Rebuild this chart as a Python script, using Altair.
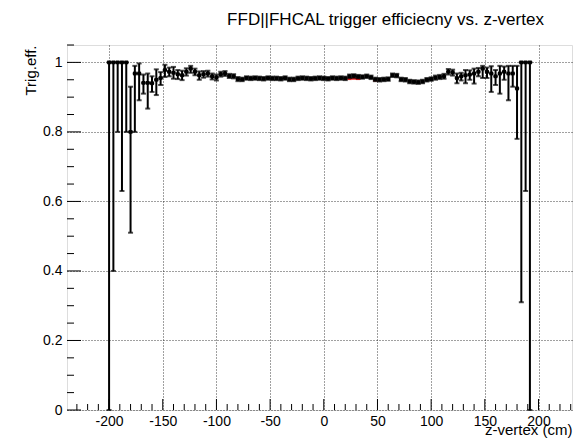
import altair as alt
import pandas as pd

# ---------------- data ----------------
BIN_CENTERS = list(range(-200, 196, 4))   # z-vertex bin centres (cm), bin width 4 cm
HALF_WIDTH = 2

EFF = [
    1.000, 1.000, 1.000, 1.000, 1.000, 0.800, 0.968, 0.968, 0.941, 0.941,
    0.940, 0.950, 0.955, 0.978, 0.973, 0.970, 0.966, 0.963, 0.973, 0.982,
    0.973, 0.963, 0.966, 0.968, 0.960, 0.957, 0.966, 0.968, 0.961, 0.960,
    0.952, 0.951, 0.955, 0.954, 0.955, 0.954, 0.953, 0.955, 0.954, 0.954,
    0.953, 0.955, 0.951, 0.951, 0.954, 0.955, 0.954, 0.953, 0.954, 0.955,
    0.954, 0.953, 0.955, 0.954, 0.955, 0.954, 0.960, 0.961, 0.959, 0.958,
    0.960, 0.957, 0.951, 0.950, 0.951, 0.952, 0.963, 0.962, 0.951, 0.950,
    0.945, 0.944, 0.943, 0.945, 0.950, 0.952, 0.956, 0.958, 0.960, 0.973,
    0.971, 0.955, 0.960, 0.963, 0.965, 0.968, 0.973, 0.982, 0.973, 0.968,
    0.960, 0.968, 0.973, 0.968, 0.968, 0.925, 1.000, 1.000, 1.000,
]
ERR_LO = [
    1.000, 0.600, 0.200, 0.370, 0.200, 0.290, 0.168, 0.077, 0.031, 0.074,
    0.025, 0.044, 0.020, 0.020, 0.013, 0.017, 0.014, 0.014, 0.011, 0.012,
    0.010, 0.013, 0.010, 0.009, 0.009, 0.009, 0.007, 0.007, 0.006, 0.006,
    0.006, 0.005, 0.005, 0.005, 0.005, 0.005, 0.005, 0.005, 0.005, 0.005,
    0.005, 0.005, 0.005, 0.005, 0.005, 0.005, 0.005, 0.005, 0.005, 0.005,
    0.005, 0.005, 0.005, 0.005, 0.005, 0.005, 0.005, 0.005, 0.005, 0.005,
    0.005, 0.005, 0.005, 0.005, 0.005, 0.005, 0.005, 0.005, 0.005, 0.005,
    0.005, 0.005, 0.005, 0.005, 0.005, 0.005, 0.006, 0.006, 0.007, 0.008,
    0.009, 0.015, 0.012, 0.023, 0.015, 0.029, 0.013, 0.027, 0.018, 0.053,
    0.025, 0.058, 0.023, 0.077, 0.038, 0.145, 0.690, 0.370, 1.000,
]
ERR_HI = [
    0.000, 0.000, 0.000, 0.000, 0.000, 0.130, 0.022, 0.029, 0.024, 0.027,
    0.020, 0.030, 0.017, 0.015, 0.012, 0.017, 0.012, 0.013, 0.010, 0.008,
    0.009, 0.011, 0.009, 0.008, 0.008, 0.008, 0.007, 0.007, 0.006, 0.006,
    0.006, 0.005, 0.005, 0.005, 0.005, 0.005, 0.005, 0.005, 0.005, 0.005,
    0.005, 0.005, 0.005, 0.005, 0.005, 0.005, 0.005, 0.005, 0.005, 0.005,
    0.005, 0.005, 0.005, 0.005, 0.005, 0.005, 0.005, 0.005, 0.005, 0.005,
    0.005, 0.005, 0.005, 0.005, 0.005, 0.005, 0.005, 0.005, 0.005, 0.005,
    0.005, 0.005, 0.005, 0.005, 0.005, 0.005, 0.006, 0.006, 0.007, 0.008,
    0.008, 0.013, 0.010, 0.015, 0.012, 0.014, 0.011, 0.008, 0.012, 0.021,
    0.018, 0.022, 0.015, 0.022, 0.022, 0.065, 0.000, 0.000, 0.000,
]

# faint red series peeking out under the black points
RED_X = [24, 28, 32, 48]
RED_EFF = [0.952, 0.953, 0.952, 0.948]

X_MAJOR = [-200, -150, -100, -50, 0, 50, 100, 150, 200]
X_MINOR = [-230, -220, -210, -190, -180, -170, -160, -140, -130, -120, -110,
           -90, -80, -70, -60, -40, -30, -20, -10, 10, 20, 30, 40, 60, 70,
           80, 90, 110, 120, 130, 140, 160, 170, 180, 190, 210, 220, 230]
Y_MAJOR = [0, 0.2, 0.4, 0.6, 0.8, 1]
Y_MINOR = [0.05, 0.1, 0.15, 0.25, 0.3, 0.35, 0.45, 0.5, 0.55, 0.65, 0.7,
           0.75, 0.85, 0.9, 0.95, 1.05]

TITLE = "FFD||FHCAL trigger efficiecny vs. z-vertex"
X_TITLE = "z-vertex (cm)"
Y_TITLE = "Trig.eff."

# ---------------- tables ----------------
df = pd.DataFrame({"x": BIN_CENTERS, "eff": EFF, "elo": ERR_LO, "ehi": ERR_HI})
df["lo"] = df["eff"] - df["elo"]
df["hi"] = df["eff"] + df["ehi"]
df["xl"] = df["x"] - HALF_WIDTH
df["xr"] = df["x"] + HALF_WIDTH

red = pd.DataFrame({"x": RED_X, "eff": RED_EFF})
red["xl"] = red["x"] - HALF_WIDTH
red["xr"] = red["x"] + HALF_WIDTH

W, H = 505, 365
FONT = "Liberation Sans"

xs = alt.Scale(domain=[-239.2, 231.2], nice=False, zero=False)
ys = alt.Scale(domain=[0, 1.05], nice=False, zero=False)

X_AXIS = alt.Axis(
    values=X_MAJOR, grid=True, gridDash=[1, 2], gridColor="#000", gridOpacity=0.75,
    ticks=False, domain=False, labelExpr="'' + datum.value",
    labelFont=FONT, labelFontSize=14, labelColor="#000", labelPadding=4,
    labelFlush=False, labelOverlap=False,
    title=X_TITLE, titleFont=FONT, titleFontSize=15, titleFontWeight="normal",
    titleColor="#000", titleAnchor="end", titleAlign="right",
    titleBaseline="alphabetic", titleX=W, titleY=24,
)
Y_AXIS = alt.Axis(
    values=Y_MAJOR, grid=True, gridDash=[1, 2], gridColor="#000", gridOpacity=0.75,
    ticks=False, domain=False, labelExpr="'' + datum.value",
    labelFont=FONT, labelFontSize=14, labelColor="#000", labelPadding=5,
    labelFlush=False, labelOverlap=False,
    title=Y_TITLE, titleFont=FONT, titleFontSize=15, titleFontWeight="normal",
    titleColor="#000", titleAngle=270, titleAlign="right",
    titleBaseline="alphabetic", titleX=-32, titleY=0,
)

base = alt.Chart(df)

red_layer = alt.Chart(red).mark_rule(color="#e41a1c", strokeWidth=2).encode(
    x=alt.X("xl:Q", scale=xs, axis=X_AXIS), x2="xr:Q",
    y=alt.Y("eff:Q", scale=ys, axis=Y_AXIS),
)

hbar = base.mark_rule(color="#000", strokeWidth=2).encode(
    x=alt.X("xl:Q", scale=xs, axis=X_AXIS), x2="xr:Q",
    y=alt.Y("eff:Q", scale=ys, axis=Y_AXIS),
)
vbar = base.mark_rule(color="#000", strokeWidth=2).encode(
    x=alt.X("x:Q", scale=xs, axis=X_AXIS),
    y=alt.Y("lo:Q", scale=ys, axis=Y_AXIS), y2="hi:Q",
)
cap_lo = base.mark_tick(color="#000", orient="horizontal", size=5, thickness=2).encode(
    x=alt.X("x:Q", scale=xs, axis=X_AXIS),
    y=alt.Y("lo:Q", scale=ys, axis=Y_AXIS),
)
cap_hi = base.mark_tick(color="#000", orient="horizontal", size=5, thickness=2).encode(
    x=alt.X("x:Q", scale=xs, axis=X_AXIS),
    y=alt.Y("hi:Q", scale=ys, axis=Y_AXIS),
)
markers = base.mark_square(color="#000", size=14, opacity=1).encode(
    x=alt.X("x:Q", scale=xs, axis=X_AXIS),
    y=alt.Y("eff:Q", scale=ys, axis=Y_AXIS),
)

# inward-pointing axis ticks (ROOT style)
xmaj = alt.Chart(pd.DataFrame({"t": X_MAJOR})).mark_rule(color="#000", strokeWidth=1).encode(
    x=alt.X("t:Q", scale=xs, axis=X_AXIS), y=alt.value(H), y2=alt.value(H - 11),
)
xmin = alt.Chart(pd.DataFrame({"t": X_MINOR})).mark_rule(color="#000", strokeWidth=1).encode(
    x=alt.X("t:Q", scale=xs, axis=X_AXIS), y=alt.value(H), y2=alt.value(H - 6),
)
ymaj = alt.Chart(pd.DataFrame({"t": Y_MAJOR})).mark_rule(color="#000", strokeWidth=1).encode(
    y=alt.Y("t:Q", scale=ys, axis=Y_AXIS), x=alt.value(0), x2=alt.value(14),
)
ymin = alt.Chart(pd.DataFrame({"t": Y_MINOR})).mark_rule(color="#000", strokeWidth=1).encode(
    y=alt.Y("t:Q", scale=ys, axis=Y_AXIS), x=alt.value(0), x2=alt.value(7),
)

chart = alt.layer(
    xmaj, xmin, ymaj, ymin, red_layer, hbar, vbar, cap_lo, cap_hi, markers
).properties(
    width=W, height=H,
    autosize=alt.AutoSizeParams(type="none"),
    padding={"left": 67, "top": 45, "right": 8, "bottom": 31},
    title=alt.TitleParams(
        text=TITLE, font=FONT, fontSize=17, fontWeight="normal", color="#000",
        anchor="middle", dx=66, offset=3, baseline="alphabetic",
    ),
).configure_view(
    stroke="#000", strokeWidth=1
).configure(
    background="white", font=FONT
)

chart.save("out.html", embed_options={"renderer": "svg", "actions": False})
